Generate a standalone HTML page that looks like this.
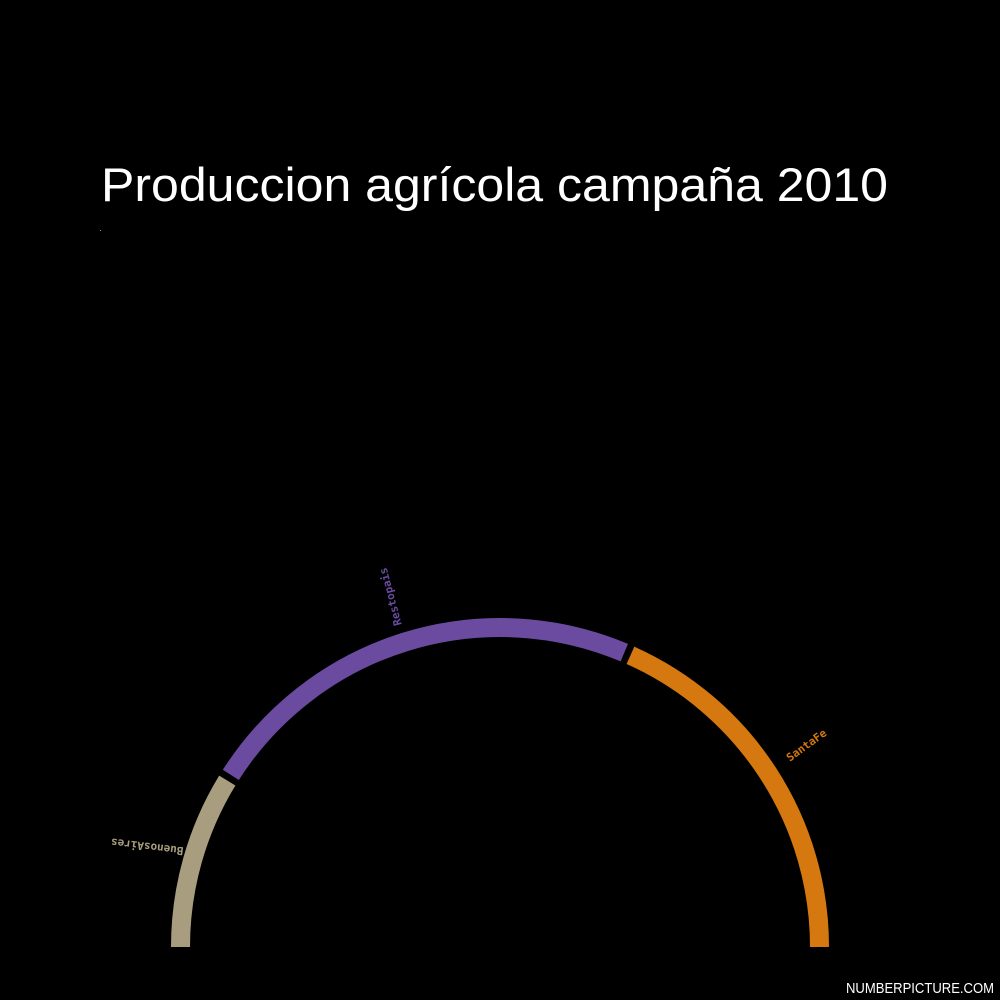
<!DOCTYPE html>
<html><head><meta charset="utf-8"><style>
html,body{margin:0;padding:0;background:#000;}
#wrap{position:relative;width:1000px;height:1000px;background:#000;overflow:hidden;}
svg{position:absolute;left:0;top:0;}
</style></head><body>
<div id="wrap">
<svg id="chart" width="1000" height="1000">
<text x="101" y="201" fill="#fff" font-family="Liberation Sans, sans-serif" font-size="47" textLength="787" lengthAdjust="spacingAndGlyphs">Produccion agrícola campaña 2010</text>
<rect x="100" y="230" width="1" height="1" fill="#888"></rect>
<text x="994" y="993" text-anchor="end" fill="#fff" font-family="Liberation Sans, sans-serif" font-size="15" textLength="148" lengthAdjust="spacingAndGlyphs">NUMBERPICTURE.COM</text>
</svg>
</div>
<script>
const categories = ["BuenosAires", "Restopais", "SantaFe"];
const values = [32, 81.5, 66.5];
const colors = ["#a89e7f", "#6a4ba0", "#d4780f"];
const labelRot = [187, -105, -36];

const svg = document.getElementById('chart');
const NS = 'http://www.w3.org/2000/svg';
const cx = 500, cy = 947, rMid = 319.5, thick = 19, gap = 1.2;
const total = values.reduce((a,b)=>a+b,0);
function angleScale(v){ return Math.PI - v/total*Math.PI; }
function pt(a,r){ return [cx + r*Math.cos(a), cy - r*Math.sin(a)]; }
let cum = 0;
values.forEach((v,i)=>{
  const a0 = angleScale(cum) - (i>0 ? gap/2*Math.PI/180 : 0);
  const a1 = angleScale(cum+v) + (i<values.length-1 ? gap/2*Math.PI/180 : 0);
  const p0 = pt(a0,rMid), p1 = pt(a1,rMid);
  const large = (a0-a1) > Math.PI ? 1 : 0;
  const path = document.createElementNS(NS,'path');
  path.setAttribute('d',`M${p0[0]},${p0[1]} A${rMid},${rMid} 0 ${large} 1 ${p1[0]},${p1[1]}`);
  path.setAttribute('stroke',colors[i]);
  path.setAttribute('stroke-width',thick);
  path.setAttribute('fill','none');
  
  
  svg.appendChild(path);
  const am = angleScale(cum+v/2);
  const lp = pt(am, 367);
  const t = document.createElementNS(NS,'text');
  t.setAttribute('x',lp[0]); t.setAttribute('y',lp[1]);
  t.setAttribute('fill',colors[i]);
  t.setAttribute('font-family','DejaVu Sans Mono, monospace');
  t.setAttribute('font-size','11');
  t.setAttribute('font-weight','bold');
  t.setAttribute('text-anchor','middle');
  t.setAttribute('dominant-baseline','middle');
  t.setAttribute('transform',`rotate(${labelRot[i]} ${lp[0]} ${lp[1]})`);
  t.textContent = categories[i];
  
  
  svg.appendChild(t);
  cum += v;
});
</script>
</body></html>
